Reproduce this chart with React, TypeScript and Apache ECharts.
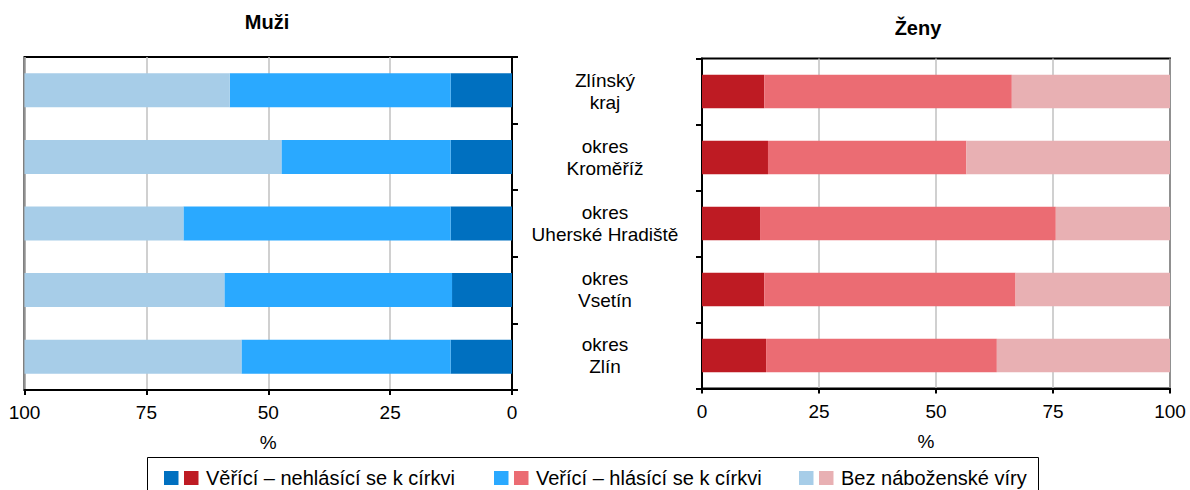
import React, { useEffect, useRef } from "react";
import * as echarts from "echarts";

const categories = ["Zlínský\nkraj", "okres\nKroměříž", "okres\nUherské Hradiště", "okres\nVsetín", "okres\nZlín"];
const valueTicks = [0, 25, 50, 75, 100];

const menNonAffiliated = [12.6, 12.6, 12.6, 12.3, 12.6];
const menAffiliated = [45.3, 34.7, 54.8, 46.7, 42.9];
const menNoFaith = [42.1, 52.7, 32.6, 41.0, 44.5];

const womenNonAffiliated = [13.3, 14.1, 12.4, 13.3, 13.7];
const womenAffiliated = [52.9, 42.4, 63.2, 53.7, 49.3];
const womenNoFaith = [33.8, 43.5, 24.4, 33.0, 37.0];

const seriesNames = ["Věřící – nehlásící se k církvi", "Veřící – hlásící se k církvi", "Bez náboženské víry"];
const menColors = ["#0070C0", "#2AA9FF", "#A7CDE8"];
const womenColors = ["#BE1B23", "#EB6C73", "#E8B0B3"];

const FONT = "'Liberation Sans', Arial, sans-serif";

export default function App() {
  const ref = useRef<HTMLDivElement>(null);

  useEffect(() => {
    if (!ref.current) return;
    const chart = echarts.init(ref.current, undefined, { renderer: "svg" });

    const valueAxis = (gridIndex: number, inverse: boolean, namePad: number[]) => ({
      type: "value",
      gridIndex,
      inverse,
      min: valueTicks[0],
      max: valueTicks[valueTicks.length - 1],
      interval: 25,
      name: "%",
      nameLocation: "middle",
      nameGap: 43,
      nameTextStyle: { color: "#000", fontSize: 19, fontFamily: FONT, padding: namePad },
      axisLine: { show: true, lineStyle: { color: "#000", width: 2 } },
      axisTick: { show: true, length: 5, lineStyle: { color: "#000", width: 2 } },
      axisLabel: { color: "#000", fontSize: 19, fontFamily: FONT, margin: 13 },
      splitLine: { show: true, lineStyle: { color: "#C0C0C0", width: 1.5 } },
    });

    const catAxis = (gridIndex: number, position: string, showLabel: boolean) => ({
      type: "category",
      gridIndex,
      position,
      inverse: true,
      data: categories,
      axisLine: { show: true, lineStyle: { color: "#000", width: 2 } },
      axisTick: { show: true, length: 6, alignWithLabel: false, lineStyle: { color: "#000", width: 2 } },
      axisLabel: {
        show: showLabel,
        color: "#000",
        fontSize: 19,
        lineHeight: 22,
        fontFamily: FONT,
        align: "center",
        margin: 97,
      },
    });

    const mkSeries = (
      vals: number[][],
      colors: string[],
      idx: number,
      stack: string
    ) =>
      vals.map((v, i) => ({
        type: "bar",
        name: seriesNames[i],
        xAxisIndex: idx,
        yAxisIndex: idx,
        stack,
        data: v,
        barWidth: "51%",
        itemStyle: { color: colors[i] },
      }));

    const legendItems = [
      { x: 164, text: seriesNames[0], c: 0 },
      { x: 494, text: seriesNames[1], c: 1 },
      { x: 799, text: seriesNames[2], c: 2 },
    ];
    const legendGraphics: any[] = [
      {
        type: "rect",
        shape: { x: 147.5, y: 457.5, width: 891, height: 50 },
        style: { fill: "#fff", stroke: "#000", lineWidth: 1 },
      },
    ];
    legendItems.forEach((it) => {
      legendGraphics.push({
        type: "rect",
        shape: { x: it.x, y: 471, width: 14.5, height: 14 },
        style: { fill: menColors[it.c] },
      });
      legendGraphics.push({
        type: "rect",
        shape: { x: it.x + 20, y: 471, width: 14.5, height: 14 },
        style: { fill: womenColors[it.c] },
      });
      legendGraphics.push({
        type: "text",
        x: it.x + 42,
        y: 478,
        style: {
          text: it.text,
          fill: "#000",
          fontSize: 20,
          fontFamily: FONT,
          verticalAlign: "middle",
          align: "left",
        },
      });
    });

    chart.setOption({
      animation: false,
      backgroundColor: "#fff",
      grid: [
        { left: 24.5, right: 1190 - 512, top: 57, bottom: 490 - 390, show: true, borderColor: "#000", borderWidth: 2, backgroundColor: "transparent" },
        { left: 702, right: 1190 - 1170, top: 58.5, bottom: 490 - 388.5, show: true, borderColor: "#000", borderWidth: 2, backgroundColor: "transparent" },
      ],
      xAxis: [valueAxis(0, true, [0, 0, 0, 0]), valueAxis(1, false, [0, 20, 0, 0])],
      yAxis: [catAxis(0, "right", false), catAxis(1, "left", true)],
      series: [
        ...mkSeries([menNonAffiliated, menAffiliated, menNoFaith], menColors, 0, "men"),
        ...mkSeries([womenNonAffiliated, womenAffiliated, womenNoFaith], womenColors, 1, "women"),
      ],
      graphic: [
        {
          type: "text",
          x: 267,
          y: 22,
          style: { text: "Muži", fill: "#000", fontSize: 20, fontWeight: "bold", fontFamily: FONT, align: "center", verticalAlign: "middle" },
        },
        {
          type: "text",
          x: 918,
          y: 28,
          style: { text: "Ženy", fill: "#000", fontSize: 20, fontWeight: "bold", fontFamily: FONT, align: "center", verticalAlign: "middle" },
        },
        ...legendGraphics,
      ],
    });

    return () => chart.dispose();
  }, []);

  return (
    <div
      ref={ref}
      style={{ position: "fixed", left: 0, top: 0, width: 1190, height: 490 }}
    />
  );
}
